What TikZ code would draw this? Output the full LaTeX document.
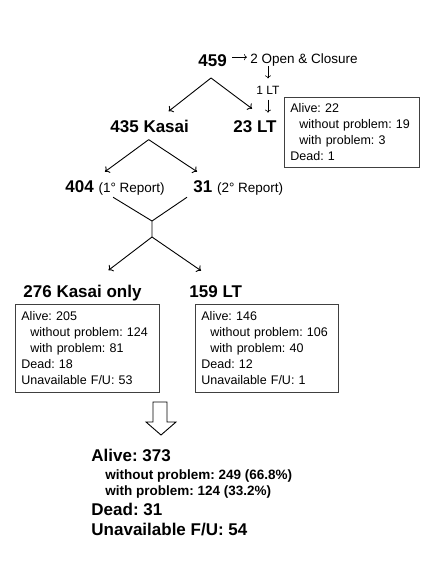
\documentclass[tikz,border=0pt]{standalone}
\usepackage{fontspec}
\setmainfont{Liberation Sans}
\usetikzlibrary{arrows.meta, positioning}
\tikzset{
  every picture/.style={line width=0.9pt},
  count/.style={font=\fontsize{17}{20}\selectfont\bfseries, inner sep=0pt},
  note/.style={font=\fontsize{13.5}{16}\selectfont, inner sep=0pt},
  result/.style={draw=black!75, line width=0.8pt, anchor=north west, align=left, inner xsep=6pt, inner ysep=0pt,
    font=\fontsize{12.5}{16}\selectfont},
  arrow/.style={-{To[length=4pt, width=8pt]}},
  small arrow/.style={-{To[length=3pt, width=6pt]}, line width=0.6pt},
}
\newcommand{\ind}{\hspace*{9pt}}
\frenchspacing

\begin{document}
\begin{tikzpicture}[x=1pt, y=-1pt]
  \useasboundingbox (0,0) rectangle (438,562);
  % top split
  \node[count, anchor=base west] (n459) at (198,66) {459};
  \node[note, anchor=base west] (open) at (250,63) {2 Open \& Closure};
  \draw[small arrow] ([shift={(5pt,3pt)}]n459.east) -- ([shift={(-3pt,3pt)}]n459.east -| open.west);
  \node[note, font=\fontsize{12}{14}\selectfont] (lt1) at (268,90) {1 LT};
  \node[count, anchor=base west] (kasai) at (110,132) {435 Kasai};
  \node[count, anchor=base west] (lt23) at (233,132) {23 LT};
  \draw[small arrow] (open.south -| lt1) -- ([yshift=7pt]lt1.north);
  \draw[small arrow] ([yshift=-5pt]lt1.south) -- ([yshift=7pt]lt1 |- lt23.north);
  \coordinate (fork459) at (211,78);
  \draw[arrow] (fork459) -- ([shift={(19pt,8pt)}]kasai.north);
  \draw[arrow] (fork459) -- ([shift={(-3pt,11pt)}]lt23.north);
  \node[result, minimum width=135pt, minimum height=70pt, text width=123pt] (box23) at (284,97)
    {Alive: 22\\ \ind without problem: 19\\ \ind with problem: 3\\ Dead: 1};
  % kasai split
  \node[count, anchor=base west] (rep1) at (65,192) {404 {\fontsize{13.5}{16}\mdseries\selectfont(1° Report)}};
  \node[count, anchor=base west] (rep2) at (193,192) {31 {\fontsize{13.5}{16}\mdseries\selectfont(2° Report)}};
  \draw[arrow] ([shift={(-1pt,-7pt)}]kasai.south) -- ([shift={(40pt,8pt)}]rep1.north west);
  \draw[arrow] ([shift={(-1pt,-7pt)}]kasai.south) -- ([shift={(4pt,8pt)}]rep2.north west);
  % merge
  \coordinate (join1) at (152,221);
  \coordinate (join2) at (152,237);
  \draw ([shift={(-2pt,-2pt)}]rep1.south) -- (join1);
  \draw ([shift={(-6pt,-2pt)}]rep2.south west) -- (join1) -- (join2);
  \node[count, anchor=base west] (only) at (23,297) {276 Kasai only};
  \node[count, anchor=base west] (lt159) at (189,297) {159 LT};
  \draw[arrow] (join2) -- ([shift={(26pt,14pt)}]only.north);
  \draw[arrow] (join2) -- ([shift={(12pt,14pt)}]lt159.north west);
  \node[result, minimum width=144pt, minimum height=88pt, text width=132pt] (boxonly) at (15,304)
    {Alive: 205\\ \ind without problem: 124\\ \ind with problem: 81\\ Dead: 18\\ Unavailable F/U: 53};
  \node[result, minimum width=143pt, minimum height=88pt, text width=131pt] (boxlt) at (195,304)
    {Alive: 146\\ \ind without problem: 106\\ \ind with problem: 40\\ Dead: 12\\ Unavailable F/U: 1};
  % total
  \draw[line width=0.9pt] (153,402) -- (167,402) -- (167,422) -- (176,422) -- (161,435)
    -- (146,422) -- (153,422) -- cycle;
  \node[anchor=north west, align=left, inner sep=0pt, font=\fontsize{17}{20}\selectfont\bfseries] (total) at (91,449)
    {Alive: 373\\[-2pt]
     {\fontsize{13.5}{16}\selectfont\hspace*{14pt}without problem: 249 (66.8\%)}\\[-4pt]
     {\fontsize{13.5}{16}\selectfont\hspace*{14pt}with problem: 124 (33.2\%)}\\
     Dead: 31\\
     Unavailable F/U: 54};
\end{tikzpicture}
\end{document}
